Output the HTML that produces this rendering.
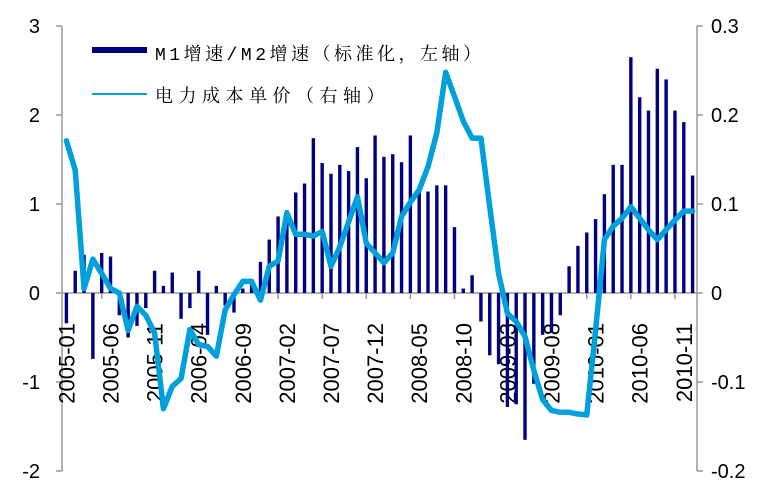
<!DOCTYPE html>
<html><head><meta charset="utf-8"><style>
html,body{margin:0;padding:0;background:#fff;}
svg text{font-family:"Liberation Sans","Noto Sans CJK SC",sans-serif;}
</style></head><body>
<svg id="chart" width="774" height="489" viewBox="0 0 774 489" xmlns="http://www.w3.org/2000/svg">
<g id="axes"></g>
<g id="bars"></g>
<g id="line"></g>
<g id="legend">
  <rect x="92" y="47" width="55" height="6" fill="#000080"/>
  <text x="155" y="60" font-size="18" letter-spacing="3.5" style="font-family:'Liberation Mono','Noto Serif CJK SC',serif">M1增速/M2增速（标准化，左轴）</text>
  <line x1="92" y1="94" x2="147" y2="94" stroke="#00A0DC" stroke-width="2"/>
  <text x="155" y="102" font-size="18" letter-spacing="5.5" style="font-family:'Liberation Serif','Noto Serif CJK SC',serif">电力成本单价（右轴）</text>
</g>
</svg>
<script>
const barValues=[-0.34,0.25,0.43,-0.74,0.45,0.41,-0.25,-0.5,-0.37,-0.17,0.25,0.08,0.23,-0.29,-0.17,0.25,-0.47,0.08,-0.14,-0.22,0.05,0.1,0.35,0.6,0.86,0.93,1.13,1.23,1.74,1.46,1.34,1.44,1.37,1.64,1.29,1.77,1.53,1.56,1.47,1.77,1.15,1.14,1.21,1.21,0.74,0.05,0.2,-0.32,-0.7,-0.8,-1.28,-1.25,-1.65,-1.02,-0.47,-0.45,-0.25,0.3,0.53,0.68,0.83,1.11,1.44,1.44,2.65,2.2,2.05,2.52,2.4,2.05,1.92,1.32];
const lineValues=[0.171,0.138,0.005,0.038,0.022,0.005,0.0,-0.042,-0.015,-0.025,-0.045,-0.13,-0.105,-0.096,-0.041,-0.058,-0.06,-0.071,-0.019,-0.002,0.013,0.013,-0.008,0.03,0.036,0.09,0.066,0.066,0.064,0.069,0.03,0.052,0.08,0.108,0.056,0.045,0.034,0.045,0.086,0.102,0.116,0.142,0.18,0.248,0.221,0.193,0.174,0.174,0.097,0.022,-0.023,-0.032,-0.049,-0.087,-0.12,-0.132,-0.134,-0.134,-0.136,-0.137,-0.042,0.06,0.075,0.084,0.097,0.084,0.071,0.06,0.071,0.082,0.092,0.092];
const leftTicks=[3,2,1,0,-1,-2];
const rightTicks=["0.3","0.2","0.1","0","-0.1","-0.2"];
const startYear=2005, startMonth=1;

const NS="http://www.w3.org/2000/svg";
const X0=62,X1=697,YT=26,YB=471;
const n=barValues.length, bw=(X1-X0)/n;
const xC=i=>X0+bw*(i+0.5);
const yL=v=>YT+(3-v)/5*(YB-YT);
const yR=v=>YT+(0.3-v)/0.5*(YB-YT);
function mk(tag,attrs,parent){const e=document.createElementNS(NS,tag);for(const k in attrs)e.setAttribute(k,attrs[k]);parent.appendChild(e);return e;}
const axes=document.getElementById('axes'),bars=document.getElementById('bars'),line=document.getElementById('line');
let a=mk('line',{x1:X0,y1:YT,x2:X0,y2:YB,stroke:'#999','stroke-width':1.5},axes);


a=mk('line',{x1:X1,y1:YT,x2:X1,y2:YB,stroke:'#999','stroke-width':1.5},axes);


a=mk('line',{x1:X0,y1:yL(0),x2:X1,y2:yL(0),stroke:'#999','stroke-width':1.5},axes);


leftTicks.forEach(v=>{const y=yL(v);
 let t=mk('line',{x1:X0-6,y1:y,x2:X0,y2:y,stroke:'#999','stroke-width':1.5},axes);
 
 
 let l=mk('text',{x:40,y:y+7,'font-size':20,'text-anchor':'end'},axes);l.textContent=v;
 
 });
rightTicks.forEach(s=>{const y=yR(parseFloat(s));
 let t=mk('line',{x1:X1,y1:y,x2:X1+6,y2:y,stroke:'#999','stroke-width':1.5},axes);
 
 
 let l=mk('text',{x:711,y:y+7,'font-size':20},axes);l.textContent=s;
 
 });
for(let i=0;i<n;i+=5){
 const xb=X0+bw*(i-0.5);
 if(i>0){let t=mk('line',{x1:xb,y1:yL(0),x2:xb,y2:yL(0)+6,stroke:'#999','stroke-width':1.5},axes);
 
 }
 const m=startMonth-1+i, yr=startYear+Math.floor(m/12), mo=m%12+1;
 const x=xC(i)+8, y=323;
 let l=mk('text',{x:x,y:y,'font-size':22,'text-anchor':'end',transform:`rotate(-90 ${x} ${y})`},axes);
 l.textContent=yr+'-'+String(mo).padStart(2,'0');
 
 
}
barValues.forEach((v,i)=>{const y0=yL(0),y=yL(v);
 let r=mk('rect',{x:xC(i)-1.7,y:Math.min(y0,y),width:3.4,height:Math.abs(y-y0),fill:'#000080'},bars);
 
 });
let p=mk('polyline',{points:lineValues.map((v,i)=>xC(i)+','+yR(v)).join(' '),fill:'none',stroke:'#00A0DC','stroke-width':5.5,'stroke-linejoin':'round','stroke-linecap':'round'},line);


</script>
</body></html>
